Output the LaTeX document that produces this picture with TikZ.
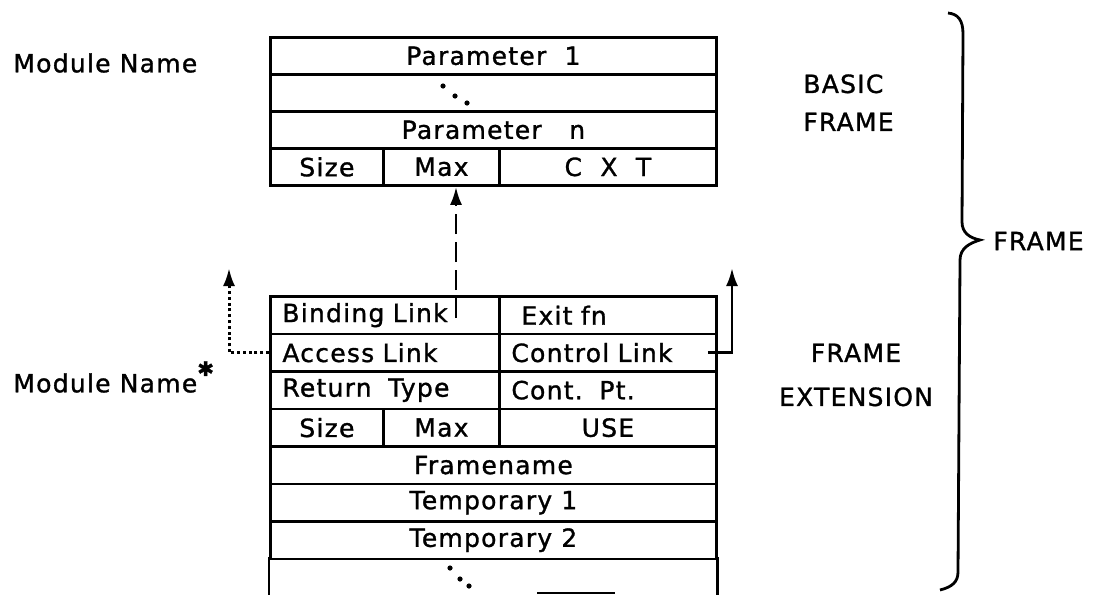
\documentclass[tikz,border=0pt]{standalone}
\usepackage{fontspec}
\setmainfont{DejaVu Sans}[LetterSpace=5,FakeBold=1.2]
\usetikzlibrary{arrows.meta,positioning,calc}

\begin{document}
\begin{tikzpicture}[x=0.5pt, y=-0.5pt,
    every node/.style={font=\fontsize{12.5}{19}\selectfont},
    cell/.style={draw, line width=1.4pt, inner sep=0pt, minimum height=18.75pt, anchor=north west},
    lcell/.style={cell, align=left, inner xsep=6pt, text width=#1},
    lbl/.style={inner sep=0pt},
    link/.style={line width=1.4pt, -{Latex[length=9pt,width=6pt]}}]
    \useasboundingbox (0,0) rectangle (1096,594);

    % basic frame
    \node[cell, minimum width=223pt, minimum height=18.5pt] (par1) at (269,36) {Parameter~~1};
    \node[cell, minimum width=223pt, minimum height=18.5pt] (pdots) at (269,73) {};
    \node[cell, minimum width=223pt, minimum height=18.5pt] (parn) at (269,110) {Parameter~~~n};
    \node[cell, minimum width=56.5pt, minimum height=18.5pt] (bsize) at (269,147) {Size};
    \node[cell, minimum width=58pt, minimum height=18.5pt] (bmax) at (382,147) {Max};
    \node[cell, minimum width=108.5pt, minimum height=18.5pt] (bcxt) at (498,147) {C~~X~~T};
    \foreach \p in {(443,86),(455,96),(467,103)}
        \fill \p circle (1.3pt);

    % frame extension
    \node[lcell=102.5pt] (bind) at (269,295) {Binding Link};
    \node[lcell=96.5pt] (exitfn) at (498,295) {\hspace{5pt}Exit fn};
    \node[lcell=102.5pt] (access) at (269,332.5) {Access Link};
    \node[lcell=96.5pt] (ctrl) at (498,332.5) {Control Link};
    \node[lcell=102.5pt] (rtype) at (269,370) {Return~~Type};
    \node[lcell=96.5pt] (contpt) at (498,370) {Cont.~~Pt.};
    \node[cell, minimum width=56.5pt] (esize) at (269,407.5) {Size};
    \node[cell, minimum width=58pt] (emax) at (382,407.5) {Max};
    \node[cell, minimum width=108.5pt] (use) at (498,407.5) {USE};
    \node[cell, minimum width=223pt] (fname) at (269,445) {Framename};
    \node[cell, minimum width=223pt] (temp1) at (269,482.5) {Temporary~1};
    \node[cell, minimum width=223pt] (temp2) at (269,520) {Temporary~2};
    \node[cell, draw=none, minimum width=223pt, minimum height=18.5pt] (etail) at (269,557) {};
    \draw[line width=1.4pt] (etail.north west) -- (etail.south west) (etail.north east) -- (etail.south east);
    \draw[line width=1.4pt] (537,593) -- (615,593);
    \foreach \p in {(450,568),(460,579),(469,586)}
        \fill \p circle (1.3pt);

    % links
    \coordinate (bindtail) at (456,318);
    \coordinate (acctip) at (229,268);
    \coordinate (ctrltip) at (732,268);
    \draw[link, dash pattern=on 10pt off 4pt] (bindtail) -- (bindtail |- bmax.south);
    \draw[link, line width=1.5pt, dash pattern=on 1.5pt off 1.4pt] (access.west) -| (acctip);
    \draw[link] ([xshift=-5pt]ctrl.east) -| (ctrltip);

    % labels
    \node[lbl, anchor=west] (modtop) at (13,63) {Module Name};
    \node[lbl, anchor=west] (modext) at (13,377) {Module Name\raisebox{1.2ex}{\normalsize ✱}};
    \node[lbl, anchor=north west, align=left] (basic) at (803,74) {BASIC\\FRAME};
    \node[lbl, align=center] (frameext) at (856,375) {FRAME\\[3pt]EXTENSION};
    \node[lbl, anchor=west] (whole) at (993,241) {FRAME};

    % brace
    \draw[line width=1.4pt] (948,13) .. controls (958,14) and (963,20) .. (963,34) -- (962,222)
        .. controls (962,233) and (970,238) .. (980,240)
        .. controls (970,243) and (960,248) .. (960,260) -- (958,572)
        .. controls (958,582) and (952,587) .. (940,590);
\end{tikzpicture}
\end{document}
